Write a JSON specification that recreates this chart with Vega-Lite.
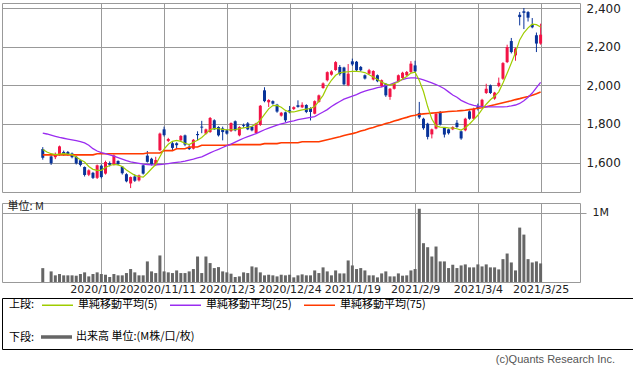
{
  "$schema": "https://vega.github.io/schema/vega-lite/v6.json",
  "padding": {"left": 1, "top": 1, "right": 0, "bottom": 0},
  "background": "#ffffff",
  "config": {
    "view": {"stroke": "#999999", "strokeWidth": 1},
    "axis": {"gridColor": "#999999", "gridWidth": 1, "labelFont": "DejaVu Sans", "labelColor": "#222222", "domain": false, "titleFontWeight": "normal"},
    "legend": {"labelFont": "Noto Sans CJK JP", "labelFontSize": 11, "labelColor": "#000000", "titleFont": "Noto Sans CJK JP", "titleFontSize": 11, "titleFontWeight": "normal", "titleColor": "#000000"}
  },
  "spacing": 2,
  "bounds": "full",
  "resolve": {"scale": {"color": "independent"}, "legend": {"color": "independent"}},
  "vconcat": [
    {
      "data": {"values": [
        {"i":0,"d":"2020/9/30","o":1670,"h":1680,"l":1615,"c":1625,"v":0.200,"m5":1668,"m25":1752,"m75":1640},
        {"i":1,"d":"2020/10/1","m5":1655,"m25":1748,"m75":1640},
        {"i":2,"d":"2020/10/2","o":1632,"h":1638,"l":1588,"c":1597,"v":0.153,"m5":1646,"m25":1742,"m75":1640},
        {"i":3,"d":"2020/10/5","o":1628,"h":1652,"l":1618,"c":1645,"v":0.096,"m5":1641,"m25":1736,"m75":1640},
        {"i":4,"d":"2020/10/6","o":1640,"h":1688,"l":1636,"c":1684,"v":0.115,"m5":1644,"m25":1730,"m75":1640},
        {"i":5,"d":"2020/10/7","o":1655,"h":1662,"l":1636,"c":1641,"v":0.096,"m5":1646,"m25":1726,"m75":1640},
        {"i":6,"d":"2020/10/8","o":1655,"h":1660,"l":1636,"c":1641,"v":0.096,"m5":1644,"m25":1722,"m75":1640},
        {"i":7,"d":"2020/10/9","o":1647,"h":1652,"l":1622,"c":1628,"v":0.096,"m5":1641,"m25":1718,"m75":1640},
        {"i":8,"d":"2020/10/12","o":1630,"h":1634,"l":1590,"c":1596,"v":0.091,"m5":1629,"m25":1714,"m75":1640},
        {"i":9,"d":"2020/10/13","o":1612,"h":1615,"l":1580,"c":1588,"v":0.115,"m5":1615,"m25":1708,"m75":1640},
        {"i":10,"d":"2020/10/14","o":1577,"h":1580,"l":1528,"c":1536,"v":0.139,"m5":1603,"m25":1702,"m75":1640},
        {"i":11,"d":"2020/10/15","o":1537,"h":1565,"l":1530,"c":1560,"v":0.081,"m5":1580,"m25":1690,"m75":1640},
        {"i":12,"d":"2020/10/16","o":1547,"h":1552,"l":1515,"c":1521,"v":0.115,"m5":1565,"m25":1672,"m75":1640},
        {"i":13,"d":"2020/10/19","o":1521,"h":1590,"l":1515,"c":1586,"v":0.139,"m5":1560,"m25":1660,"m75":1646},
        {"i":14,"d":"2020/10/20","o":1584,"h":1590,"l":1518,"c":1525,"v":0.115,"m5":1560,"m25":1652,"m75":1646},
        {"i":15,"d":"2020/10/21","o":1543,"h":1610,"l":1538,"c":1603,"v":0.105,"m5":1575,"m25":1646,"m75":1646},
        {"i":16,"d":"2020/10/22","o":1598,"h":1606,"l":1580,"c":1588,"v":0.072,"m5":1585,"m25":1640,"m75":1646},
        {"i":17,"d":"2020/10/23","o":1590,"h":1642,"l":1585,"c":1637,"v":0.115,"m5":1590,"m25":1634,"m75":1646},
        {"i":18,"d":"2020/10/26","o":1608,"h":1612,"l":1586,"c":1592,"v":0.096,"m5":1588,"m25":1626,"m75":1646},
        {"i":19,"d":"2020/10/27","o":1579,"h":1582,"l":1538,"c":1545,"v":0.096,"m5":1580,"m25":1618,"m75":1646},
        {"i":20,"d":"2020/10/28","o":1540,"h":1545,"l":1498,"c":1503,"v":0.129,"m5":1562,"m25":1610,"m75":1646},
        {"i":21,"d":"2020/10/29","o":1492,"h":1528,"l":1468,"c":1525,"v":0.187,"m5":1548,"m25":1604,"m75":1646},
        {"i":22,"d":"2020/10/30","o":1528,"h":1540,"l":1500,"c":1506,"v":0.139,"m5":1534,"m25":1600,"m75":1646},
        {"i":23,"d":"2020/11/2","o":1508,"h":1538,"l":1502,"c":1534,"v":0.096,"m5":1528,"m25":1596,"m75":1646},
        {"i":24,"d":"2020/11/4","o":1586,"h":1590,"l":1538,"c":1543,"v":0.096,"m5":1525,"m25":1592,"m75":1646},
        {"i":25,"d":"2020/11/5","o":1636,"h":1660,"l":1600,"c":1604,"v":0.297,"m5":1545,"m25":1590,"m75":1650},
        {"i":26,"d":"2020/11/6","o":1620,"h":1625,"l":1585,"c":1590,"v":0.153,"m5":1568,"m25":1588,"m75":1650},
        {"i":27,"d":"2020/11/9","o":1588,"h":1630,"l":1582,"c":1613,"v":0.129,"m5":1590,"m25":1588,"m75":1650},
        {"i":28,"d":"2020/11/10","o":1664,"h":1755,"l":1660,"c":1750,"v":0.383,"m5":1630,"m25":1590,"m75":1650},
        {"i":29,"d":"2020/11/11","o":1772,"h":1786,"l":1735,"c":1742,"v":0.153,"m5":1670,"m25":1592,"m75":1662},
        {"i":30,"d":"2020/11/12","o":1712,"h":1728,"l":1706,"c":1722,"v":0.139,"m5":1695,"m25":1595,"m75":1662},
        {"i":31,"d":"2020/11/13","o":1700,"h":1706,"l":1665,"c":1676,"v":0.129,"m5":1710,"m25":1598,"m75":1662},
        {"i":32,"d":"2020/11/16","o":1700,"h":1705,"l":1672,"c":1690,"v":0.167,"m5":1715,"m25":1601,"m75":1672},
        {"i":33,"d":"2020/11/17","o":1715,"h":1742,"l":1710,"c":1738,"v":0.129,"m5":1710,"m25":1604,"m75":1672},
        {"i":34,"d":"2020/11/18","o":1741,"h":1745,"l":1685,"c":1693,"v":0.129,"m5":1700,"m25":1608,"m75":1672},
        {"i":35,"d":"2020/11/19","o":1680,"h":1690,"l":1665,"c":1670,"v":0.153,"m5":1693,"m25":1613,"m75":1681},
        {"i":36,"d":"2020/11/20","o":1672,"h":1722,"l":1668,"c":1718,"v":0.187,"m5":1705,"m25":1618,"m75":1681},
        {"i":37,"d":"2020/11/24","o":1748,"h":1762,"l":1715,"c":1742,"v":0.368,"m5":1716,"m25":1624,"m75":1681},
        {"i":38,"d":"2020/11/25","o":1786,"h":1816,"l":1752,"c":1781,"v":0.129,"m5":1730,"m25":1630,"m75":1690},
        {"i":39,"d":"2020/11/26","o":1750,"h":1776,"l":1745,"c":1772,"v":0.368,"m5":1750,"m25":1640,"m75":1690},
        {"i":40,"d":"2020/11/27","o":1758,"h":1836,"l":1754,"c":1831,"v":0.273,"m5":1770,"m25":1650,"m75":1690},
        {"i":41,"d":"2020/11/30","o":1819,"h":1824,"l":1770,"c":1772,"v":0.201,"m5":1777,"m25":1660,"m75":1690},
        {"i":42,"d":"2020/12/1","o":1784,"h":1788,"l":1735,"c":1741,"v":0.215,"m5":1775,"m25":1668,"m75":1690},
        {"i":43,"d":"2020/12/2","o":1777,"h":1786,"l":1715,"c":1758,"v":0.153,"m5":1772,"m25":1678,"m75":1690},
        {"i":44,"d":"2020/12/3","o":1767,"h":1772,"l":1745,"c":1750,"v":0.139,"m5":1770,"m25":1688,"m75":1690},
        {"i":45,"d":"2020/12/4","o":1763,"h":1808,"l":1758,"c":1805,"v":0.120,"m5":1770,"m25":1696,"m75":1693},
        {"i":46,"d":"2020/12/7","o":1814,"h":1818,"l":1762,"c":1767,"v":0.072,"m5":1770,"m25":1706,"m75":1693},
        {"i":47,"d":"2020/12/8","o":1741,"h":1788,"l":1736,"c":1784,"v":0.081,"m5":1776,"m25":1716,"m75":1693},
        {"i":48,"d":"2020/12/9","o":1795,"h":1802,"l":1780,"c":1790,"v":0.139,"m5":1780,"m25":1726,"m75":1693},
        {"i":49,"d":"2020/12/10","o":1803,"h":1810,"l":1768,"c":1772,"v":0.129,"m5":1783,"m25":1734,"m75":1693},
        {"i":50,"d":"2020/12/11","o":1786,"h":1790,"l":1762,"c":1767,"v":0.225,"m5":1788,"m25":1742,"m75":1693},
        {"i":51,"d":"2020/12/14","o":1753,"h":1806,"l":1748,"c":1803,"v":0.211,"m5":1800,"m25":1750,"m75":1693},
        {"i":52,"d":"2020/12/15","o":1795,"h":1898,"l":1790,"c":1894,"v":0.139,"m5":1820,"m25":1760,"m75":1693},
        {"i":53,"d":"2020/12/16","o":1974,"h":1990,"l":1912,"c":1918,"v":0.096,"m5":1850,"m25":1770,"m75":1698},
        {"i":54,"d":"2020/12/17","o":1912,"h":1928,"l":1888,"c":1924,"v":0.105,"m5":1878,"m25":1778,"m75":1698},
        {"i":55,"d":"2020/12/18","o":1918,"h":1922,"l":1900,"c":1905,"v":0.096,"m5":1895,"m25":1786,"m75":1698},
        {"i":56,"d":"2020/12/21","o":1900,"h":1904,"l":1858,"c":1864,"v":0.081,"m5":1896,"m25":1794,"m75":1698},
        {"i":57,"d":"2020/12/22","o":1843,"h":1862,"l":1838,"c":1858,"v":0.105,"m5":1886,"m25":1800,"m75":1703},
        {"i":58,"d":"2020/12/23","o":1860,"h":1864,"l":1810,"c":1819,"v":0.096,"m5":1870,"m25":1806,"m75":1703},
        {"i":59,"d":"2020/12/24","o":1871,"h":1893,"l":1855,"c":1860,"v":0.105,"m5":1862,"m25":1812,"m75":1703},
        {"i":60,"d":"2020/12/25","o":1877,"h":1891,"l":1872,"c":1887,"v":0.067,"m5":1862,"m25":1816,"m75":1703},
        {"i":61,"d":"2020/12/28","o":1897,"h":1922,"l":1884,"c":1888,"v":0.096,"m5":1868,"m25":1822,"m75":1703},
        {"i":62,"d":"2020/12/29","o":1886,"h":1912,"l":1882,"c":1899,"v":0.110,"m5":1873,"m25":1826,"m75":1708},
        {"i":63,"d":"2020/12/30","o":1898,"h":1902,"l":1856,"c":1862,"v":0.096,"m5":1877,"m25":1830,"m75":1708},
        {"i":64,"d":"2021/1/4","o":1882,"h":1886,"l":1818,"c":1862,"v":0.096,"m5":1880,"m25":1834,"m75":1708},
        {"i":65,"d":"2021/1/5","o":1853,"h":1922,"l":1850,"c":1918,"v":0.167,"m5":1890,"m25":1838,"m75":1708},
        {"i":66,"d":"2021/1/6","o":1914,"h":1952,"l":1910,"c":1948,"v":0.129,"m5":1918,"m25":1850,"m75":1708},
        {"i":67,"d":"2021/1/7","o":1986,"h":2015,"l":1982,"c":2010,"v":0.211,"m5":1948,"m25":1862,"m75":1713},
        {"i":68,"d":"2021/1/8","o":2026,"h":2072,"l":2020,"c":2068,"v":0.153,"m5":1993,"m25":1874,"m75":1718},
        {"i":69,"d":"2021/1/12","o":2055,"h":2078,"l":2050,"c":2072,"v":0.096,"m5":2026,"m25":1890,"m75":1723},
        {"i":70,"d":"2021/1/13","o":2079,"h":2125,"l":2075,"c":2120,"v":0.167,"m5":2052,"m25":1904,"m75":1729},
        {"i":71,"d":"2021/1/14","o":2095,"h":2105,"l":2050,"c":2058,"v":0.124,"m5":2065,"m25":1916,"m75":1734},
        {"i":72,"d":"2021/1/15","o":2092,"h":2096,"l":2000,"c":2005,"v":0.124,"m5":2068,"m25":1928,"m75":1740},
        {"i":73,"d":"2021/1/18","o":2000,"h":2110,"l":1995,"c":2060,"v":0.311,"m5":2070,"m25":1936,"m75":1745},
        {"i":74,"d":"2021/1/19","o":2124,"h":2138,"l":2100,"c":2108,"v":0.239,"m5":2072,"m25":1944,"m75":1750},
        {"i":75,"d":"2021/1/20","o":2122,"h":2126,"l":2072,"c":2078,"v":0.187,"m5":2072,"m25":1952,"m75":1756},
        {"i":76,"d":"2021/1/21","o":2095,"h":2100,"l":2072,"c":2078,"v":0.201,"m5":2070,"m25":1962,"m75":1763},
        {"i":77,"d":"2021/1/22","o":2052,"h":2056,"l":2030,"c":2035,"v":0.167,"m5":2066,"m25":1970,"m75":1769},
        {"i":78,"d":"2021/1/25","o":2060,"h":2085,"l":2055,"c":2078,"v":0.096,"m5":2055,"m25":1976,"m75":1776},
        {"i":79,"d":"2021/1/26","o":2030,"h":2078,"l":2025,"c":2074,"v":0.096,"m5":2043,"m25":1982,"m75":1782},
        {"i":80,"d":"2021/1/27","o":2052,"h":2056,"l":2016,"c":2021,"v":0.067,"m5":2030,"m25":1988,"m75":1789},
        {"i":81,"d":"2021/1/28","o":1995,"h":2030,"l":1990,"c":2026,"v":0.124,"m5":2017,"m25":1992,"m75":1795},
        {"i":82,"d":"2021/1/29","o":2008,"h":2012,"l":1940,"c":1948,"v":0.153,"m5":2006,"m25":1998,"m75":1802},
        {"i":83,"d":"2021/2/1","o":1940,"h":1986,"l":1925,"c":1982,"v":0.081,"m5":2000,"m25":2004,"m75":1808},
        {"i":84,"d":"2021/2/2","o":1982,"h":2012,"l":1978,"c":2008,"v":0.081,"m5":2008,"m25":2012,"m75":1815},
        {"i":85,"d":"2021/2/3","o":2021,"h":2056,"l":2016,"c":2052,"v":0.124,"m5":2018,"m25":2020,"m75":1821},
        {"i":86,"d":"2021/2/4","o":2038,"h":2070,"l":2032,"c":2065,"v":0.091,"m5":2032,"m25":2030,"m75":1828},
        {"i":87,"d":"2021/2/5","o":2052,"h":2074,"l":2048,"c":2069,"v":0.096,"m5":2046,"m25":2036,"m75":1834},
        {"i":88,"d":"2021/2/8","o":2069,"h":2125,"l":2064,"c":2112,"v":0.167,"m5":2063,"m25":2038,"m75":1841},
        {"i":89,"d":"2021/2/9","o":2103,"h":2127,"l":2068,"c":2072,"v":0.187,"m5":2068,"m25":2038,"m75":1845},
        {"i":90,"d":"2021/2/10","o":1857,"h":1914,"l":1826,"c":1834,"v":1.057,"m5":2025,"m25":2034,"m75":1850},
        {"i":91,"d":"2021/2/12","o":1827,"h":1832,"l":1770,"c":1778,"v":0.560,"m5":1968,"m25":2028,"m75":1852},
        {"i":92,"d":"2021/2/15","o":1801,"h":1806,"l":1720,"c":1733,"v":0.502,"m5":1890,"m25":2020,"m75":1854},
        {"i":93,"d":"2021/2/16","o":1746,"h":1776,"l":1725,"c":1772,"v":0.368,"m5":1825,"m25":2012,"m75":1856},
        {"i":94,"d":"2021/2/17","o":1776,"h":1858,"l":1772,"c":1853,"v":0.512,"m5":1790,"m25":2004,"m75":1858},
        {"i":95,"d":"2021/2/18","o":1857,"h":1867,"l":1792,"c":1797,"v":0.297,"m5":1784,"m25":1994,"m75":1860},
        {"i":96,"d":"2021/2/19","o":1779,"h":1784,"l":1730,"c":1745,"v":0.297,"m5":1782,"m25":1982,"m75":1862},
        {"i":97,"d":"2021/2/22","o":1772,"h":1776,"l":1745,"c":1752,"v":0.201,"m5":1780,"m25":1966,"m75":1864},
        {"i":98,"d":"2021/2/24","o":1772,"h":1788,"l":1768,"c":1784,"v":0.249,"m5":1779,"m25":1950,"m75":1866},
        {"i":99,"d":"2021/2/25","o":1806,"h":1820,"l":1780,"c":1784,"v":0.201,"m5":1775,"m25":1938,"m75":1867},
        {"i":100,"d":"2021/2/26","o":1762,"h":1766,"l":1718,"c":1725,"v":0.239,"m5":1768,"m25":1922,"m75":1869},
        {"i":101,"d":"2021/3/1","o":1767,"h":1832,"l":1762,"c":1827,"v":0.254,"m5":1780,"m25":1912,"m75":1871},
        {"i":102,"d":"2021/3/2","o":1865,"h":1870,"l":1822,"c":1827,"v":0.211,"m5":1800,"m25":1902,"m75":1874},
        {"i":103,"d":"2021/3/3","o":1827,"h":1884,"l":1822,"c":1879,"v":0.211,"m5":1822,"m25":1896,"m75":1877},
        {"i":104,"d":"2021/3/4","o":1891,"h":1905,"l":1870,"c":1878,"v":0.254,"m5":1845,"m25":1892,"m75":1881},
        {"i":105,"d":"2021/3/5","o":1891,"h":1930,"l":1886,"c":1925,"v":0.225,"m5":1875,"m25":1890,"m75":1884},
        {"i":106,"d":"2021/3/8","o":1960,"h":2008,"l":1955,"c":1982,"v":0.254,"m5":1902,"m25":1889,"m75":1889},
        {"i":107,"d":"2021/3/9","o":2000,"h":2004,"l":1955,"c":1960,"v":0.211,"m5":1925,"m25":1888,"m75":1894},
        {"i":108,"d":"2021/3/10","o":1931,"h":1966,"l":1925,"c":1962,"v":0.211,"m5":1943,"m25":1888,"m75":1899},
        {"i":109,"d":"2021/3/11","o":1996,"h":2040,"l":1990,"c":2013,"v":0.182,"m5":1966,"m25":1888,"m75":1905},
        {"i":110,"d":"2021/3/12","o":2034,"h":2120,"l":2028,"c":2115,"v":0.330,"m5":2012,"m25":1888,"m75":1910},
        {"i":111,"d":"2021/3/15","o":2120,"h":2210,"l":2115,"c":2198,"v":0.411,"m5":2062,"m25":1890,"m75":1915},
        {"i":112,"d":"2021/3/16","o":2229,"h":2245,"l":2165,"c":2172,"v":0.282,"m5":2115,"m25":1893,"m75":1920},
        {"i":113,"d":"2021/3/17","o":2155,"h":2195,"l":2127,"c":2190,"v":0.167,"m5":2170,"m25":1898,"m75":1926},
        {"i":114,"d":"2021/3/18","o":2365,"h":2379,"l":2310,"c":2353,"v":0.785,"m5":2235,"m25":1906,"m75":1931},
        {"i":115,"d":"2021/3/19","o":2383,"h":2400,"l":2291,"c":2375,"v":0.684,"m5":2272,"m25":1920,"m75":1937},
        {"i":116,"d":"2021/3/22","o":2379,"h":2384,"l":2330,"c":2350,"v":0.330,"m5":2297,"m25":1938,"m75":1942},
        {"i":117,"d":"2021/3/23","o":2314,"h":2348,"l":2295,"c":2300,"v":0.282,"m5":2316,"m25":1960,"m75":1948},
        {"i":118,"d":"2021/3/24","o":2259,"h":2273,"l":2172,"c":2216,"v":0.297,"m5":2314,"m25":1988,"m75":1956},
        {"i":119,"d":"2021/3/25","o":2216,"h":2319,"l":2210,"c":2262,"v":0.268,"m5":2302,"m25":2015,"m75":1965}
      ]},
      "spacing": 11,
      "bounds": "flush",
      "vconcat": [
        {
          "width": 578,
          "height": 189,
          "layer": [
            {
              "mark": {"type": "rule", "strokeWidth": 1},
              "encoding": {
                "x": {"field": "i", "type": "quantitative", "scale": {"domain": [-8.55, 127.22], "nice": false, "zero": false},
                      "axis": {"values": [14, 29, 44, 59, 74, 89, 104, 119], "grid": true, "labels": false, "ticks": false, "domain": false, "title": null}},
                "y": {"field": "l", "type": "quantitative", "scale": {"domain": [1447.8, 2425.9], "nice": false, "zero": false},
                      "axis": {"orient": "right", "values": [1600, 1800, 2000, 2200, 2400], "labelExpr": "format(datum.value, ',')", "grid": true, "ticks": false, "labelPadding": 6, "labelFontSize": 12, "title": null}},
                "y2": {"field": "h"},
                "color": {"condition": {"test": "datum.c >= datum.o", "value": "#f21345"}, "value": "#083399"}
              }
            },
            {
              "mark": {"type": "bar", "size": 3},
              "encoding": {
                "x": {"field": "i", "type": "quantitative"},
                "y": {"field": "o", "type": "quantitative"},
                "y2": {"field": "c"},
                "color": {"condition": {"test": "datum.c >= datum.o", "value": "#f21345"}, "value": "#083399"}
              }
            },
            {
              "mark": {"type": "line", "strokeWidth": 1.6, "color": "#ff3a00"},
              "encoding": {
                "x": {"field": "i", "type": "quantitative"},
                "y": {"field": "m75", "type": "quantitative"}
              }
            },
            {
              "mark": {"type": "line", "strokeWidth": 1.3, "color": "#9a2cf0"},
              "encoding": {
                "x": {"field": "i", "type": "quantitative"},
                "y": {"field": "m25", "type": "quantitative"}
              }
            },
            {
              "mark": {"type": "line", "strokeWidth": 1.2, "color": "#9fcc00"},
              "encoding": {
                "x": {"field": "i", "type": "quantitative"},
                "y": {"field": "m5", "type": "quantitative"}
              }
            }
          ]
        },
        {
          "width": 578,
          "height": 79,
          "mark": {"type": "bar", "size": 3, "color": "#666666"},
          "encoding": {
            "x": {"field": "i", "type": "quantitative", "scale": {"domain": [-8.55, 127.22], "nice": false, "zero": false},
                  "axis": {"values": [14, 29, 44, 59, 74, 89, 104, 119], "grid": true, "ticks": false, "domain": false, "title": null, "labelPadding": 1, "labelFontSize": 11, "labelAngle": 0, "labelOverlap": false, "labelFlush": false, "labelBound": false,
                           "labelExpr": "datum.value==14?'2020/10/20':datum.value==29?'2020/11/11':datum.value==44?'2020/12/3':datum.value==59?'2020/12/24':datum.value==74?'2021/1/19':datum.value==89?'2021/2/9':datum.value==104?'2021/3/4':'2021/3/25'"}},
            "y": {"field": "v", "type": "quantitative", "stack": null, "scale": {"domain": [0, 1.14], "nice": false, "zero": true},
                  "axis": {"orient": "right", "values": [1], "labelExpr": "'1M'", "grid": true, "ticks": true, "tickSize": 6, "tickColor": "#999999", "labelPadding": 6, "labelFontSize": 11,
                           "title": "単位: M", "titleAngle": 0, "titleX": -573, "titleY": 3, "titleAlign": "left", "titleBaseline": "middle", "titleFont": "Noto Sans CJK JP", "titleFontSize": 11, "titleColor": "#222222"}}
          }
        }
      ]
    },
    {
      "width": 631,
      "height": 51,
      "view": {"stroke": "#000000", "strokeWidth": 1},
      "title": {"text": "(c)Quants Research Inc.", "orient": "bottom", "anchor": "end", "dx": -18, "offset": 5, "font": "Liberation Sans", "fontSize": 11, "fontWeight": "normal", "color": "#555555"},
      "resolve": {"scale": {"color": "independent"}, "legend": {"color": "independent"}},
      "layer": [
        {
          "data": {"values": []},
          "mark": {"type": "point", "filled": false},
          "encoding": {
            "color": {"field": "s", "type": "nominal",
                      "scale": {"domain": ["単純移動平均(5)", "単純移動平均(25)", "単純移動平均(75)"], "range": ["#9fcc00", "#9a2cf0", "#ff3a00"]},
                      "legend": {"orient": "none", "legendX": 7, "legendY": 0.5, "direction": "horizontal", "title": "上段:", "titleOrient": "left", "titleAnchor": "start", "titleBaseline": "top", "titlePadding": 16, "symbolType": "M-2.818,0L2.818,0", "symbolSize": 121, "symbolStrokeWidth": 1.5, "symbolOpacity": 1, "labelOffset": 14, "columnPadding": 9, "padding": 0}}
          }
        },
        {
          "data": {"values": []},
          "mark": {"type": "square", "filled": true},
          "encoding": {
            "color": {"field": "t", "type": "nominal",
                      "scale": {"domain": ["出来高 単位:(M株/口/枚)"], "range": ["#666666"]},
                      "legend": {"orient": "none", "legendX": 7, "legendY": 33.5, "title": "下段:", "titleOrient": "left", "titleAnchor": "start", "titleBaseline": "top", "titlePadding": 16, "symbolType": "M-2.818,-0.32L2.818,-0.32L2.818,0.32L-2.818,0.32Z", "symbolSize": 121, "symbolStrokeWidth": 0, "symbolOpacity": 1, "labelOffset": 14, "padding": 0}}
          }
        }
      ]
    }
  ]
}
